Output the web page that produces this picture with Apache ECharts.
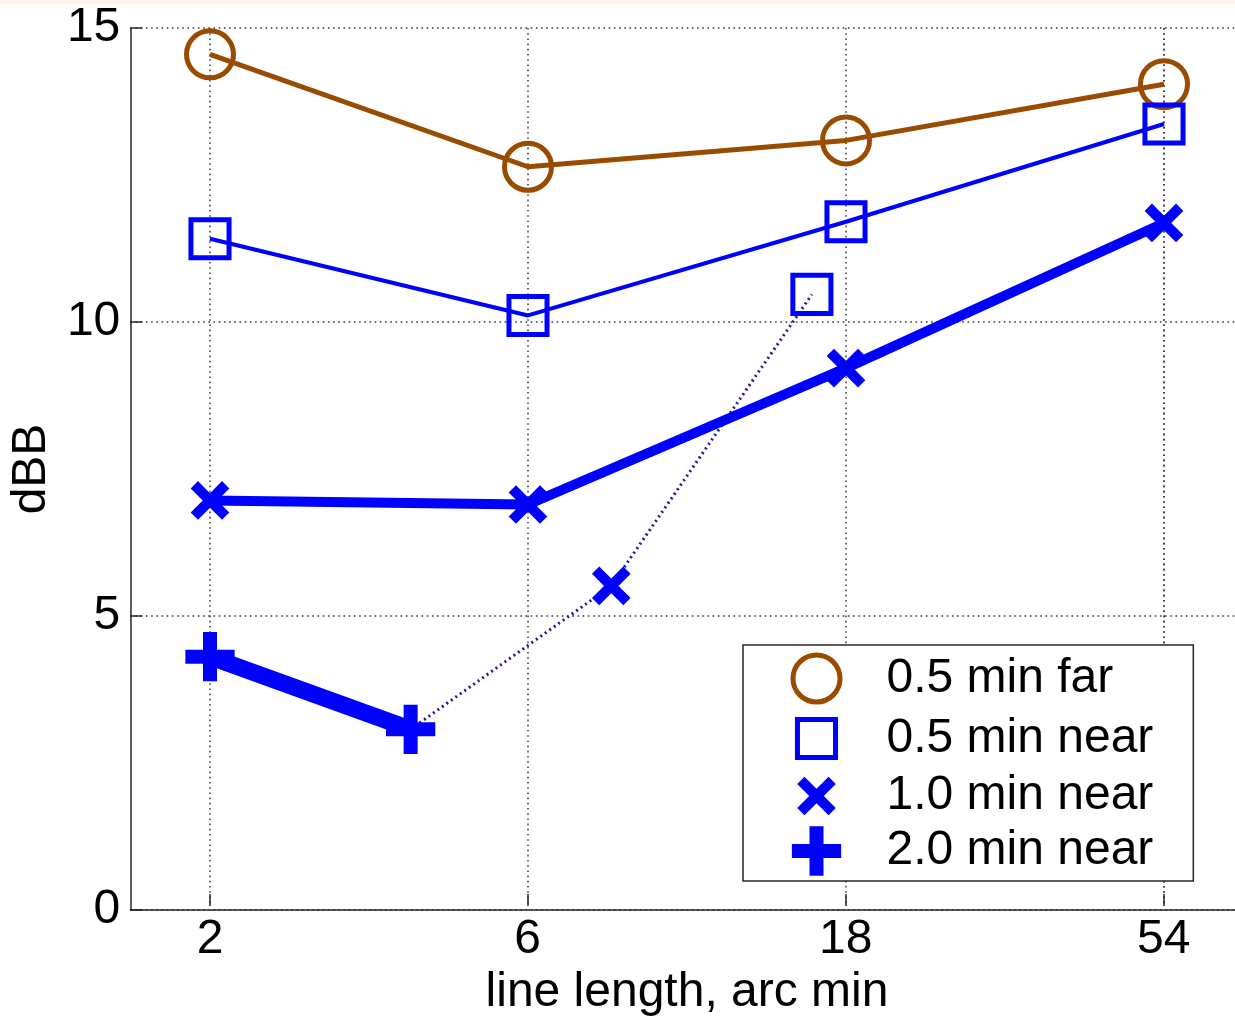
<!DOCTYPE html>
<html>
<head>
<meta charset="utf-8">
<script src="https://cdn.jsdelivr.net/npm/echarts@6/dist/echarts.min.js"></script>
<style>
html,body{margin:0;padding:0;background:#fff;}
#chart{width:1235px;height:1022px;}
</style>
</head>
<body>
<div id="chart"></div>
<script>
// ---- data ----
const lineLengths = [2, 6, 18, 54];
const seriesNames = ['0.5 min far', '0.5 min near', '1.0 min near', '2.0 min near'];
const far05 = [14.55, 12.63, 13.08, 14.04];
const near05 = [11.40, 10.09, 11.69, 13.36];
const near10 = [6.93, 6.86, 9.19, 11.67];
const near20Lengths = [2, 4];
const near20 = [4.26, 3.02];
const extraLengths = [4, 8, 16];
const extraValues = [3.02, 5.47, 10.45];
const extraMarkers = ['none', 'x', 'square'];
const yTicks = [0, 5, 10, 15];

// ---- style ----
const FONT = "'Liberation Sans', Arial, Helvetica, sans-serif";
const BROWN = '#994c00';
const BLUE = '#0000ff';
const NAVY = '#1c1c8c';
const PAD = 'M0 0M100 100';
const SYM = {
  circle: 'path://' + PAD + 'M8 50A42 42 0 1 1 92 50A42 42 0 1 1 8 50Z',
  square: 'path://' + PAD + 'M16 16L84 16L84 84L16 84Z',
  x: 'path://' + PAD + 'M28.5 15.5L50 37L71.5 15.5L84.5 28.5L63 50L84.5 71.5L71.5 84.5L50 63L28.5 84.5L15.5 71.5L37 50L15.5 28.5Z',
  plus: 'path://' + PAD + 'M37.5 6L62.5 6L62.5 37.5L94 37.5L94 62.5L62.5 62.5L62.5 94L37.5 94L37.5 62.5L6 62.5L6 37.5L37.5 37.5Z'
};
const SYM_SIZE = 56;
const hollow = c => ({color: 'rgba(0,0,0,0)', borderColor: c, borderWidth: 5});
const solid = c => ({color: c, borderWidth: 0});

const W = 1235, H = 1022;
const plotLeft = 128, plotTop = 28, plotBottom = 910;
const firstTickX = 210, lastTickX = 1164;

const dotted = {type: [1.6, 3.6], width: 1.5, color: '#3a3a3a'};

const pairs = (xs, ys) => xs.map((x, i) => [x, ys[i]]);

const extraData = extraLengths.map((x, i) => {
  const m = extraMarkers[i];
  if (m === 'none') return {value: [x, extraValues[i]], symbol: 'none'};
  if (m === 'x') return {value: [x, extraValues[i]], symbol: SYM.x, itemStyle: solid(BLUE)};
  return {value: [x, extraValues[i]], symbol: SYM.square, itemStyle: hollow(BLUE)};
});

const chart = echarts.init(document.getElementById('chart'), null, {renderer: 'canvas'});
chart.setOption({
  animation: false,
  backgroundColor: '#fff',
  textStyle: {fontFamily: FONT},
  graphic: [{type: 'rect', shape: {x: 0, y: 0, width: W, height: 4}, style: {fill: '#fcf3ec'}, silent: true}],
  grid: [
    {left: plotLeft, right: 0, top: plotTop, bottom: H - plotBottom},
    {left: firstTickX, right: W - lastTickX, top: plotTop, bottom: H - plotBottom}
  ],
  xAxis: [
    {type: 'value', gridIndex: 0, min: 0, max: 1,
      axisLine: {show: true, onZero: false, lineStyle: {color: '#262626', width: 1.5}},
      axisTick: {show: false}, axisLabel: {show: false}, splitLine: {show: false}},
    {type: 'log', gridIndex: 1, logBase: 3, min: lineLengths[0], max: lineLengths[lineLengths.length - 1], interval: 1,
      name: 'line length, arc min', nameLocation: 'middle', nameGap: 46,
      nameTextStyle: {fontSize: 48, color: '#000', fontFamily: FONT},
      axisLine: {show: false},
      axisTick: {show: true, inside: true, length: 12, lineStyle: {color: '#262626', width: 1.5}},
      axisLabel: {fontSize: 48, color: '#000', fontFamily: FONT, margin: 10,
        formatter: v => String(Math.round(v))},
      splitLine: {show: true, lineStyle: dotted}}
  ],
  yAxis: [
    {type: 'value', gridIndex: 0, min: yTicks[0], max: yTicks[yTicks.length - 1], interval: 5,
      name: 'dBB', nameLocation: 'middle', nameGap: 62,
      nameTextStyle: {fontSize: 48, color: '#000', fontFamily: FONT},
      axisLine: {show: true, lineStyle: {color: '#262626', width: 1.5}},
      axisTick: {show: true, inside: true, length: 12, lineStyle: {color: '#262626', width: 1.5}},
      axisLabel: {fontSize: 48, color: '#000', fontFamily: FONT, margin: 10},
      splitLine: {show: true, lineStyle: dotted}},
    {type: 'value', gridIndex: 1, min: yTicks[0], max: yTicks[yTicks.length - 1], show: false}
  ],
  legend: {
    orient: 'vertical', left: 743, top: 645, padding: [3, 40, 2, 43],
    itemWidth: SYM_SIZE, itemHeight: SYM_SIZE, itemGap: -1,
    backgroundColor: '#fff', borderColor: '#262626', borderWidth: 1.5,
    selectedMode: false,
    textStyle: {fontSize: 48, color: '#000', fontFamily: FONT, padding: [0, 0, 0, 37]},
    data: [
      {name: seriesNames[0], icon: SYM.circle, itemStyle: hollow(BROWN)},
      {name: seriesNames[1], icon: SYM.square, itemStyle: hollow(BLUE)},
      {name: seriesNames[2], icon: SYM.x, itemStyle: solid(BLUE)},
      {name: seriesNames[3], icon: SYM.plus, itemStyle: solid(BLUE)}
    ]
  },
  series: [
    {name: seriesNames[0], type: 'line', xAxisIndex: 1, yAxisIndex: 1, clip: false,
      data: pairs(lineLengths, far05), symbol: SYM.circle, symbolSize: SYM_SIZE,
      itemStyle: hollow(BROWN), lineStyle: {color: BROWN, width: 5}, z: 3},
    {name: seriesNames[1], type: 'line', xAxisIndex: 1, yAxisIndex: 1, clip: false,
      data: pairs(lineLengths, near05), symbol: SYM.square, symbolSize: SYM_SIZE,
      itemStyle: hollow(BLUE), lineStyle: {color: BLUE, width: 4}, z: 4},
    {name: seriesNames[2], type: 'line', xAxisIndex: 1, yAxisIndex: 1, clip: false,
      data: pairs(lineLengths, near10), symbol: SYM.x, symbolSize: SYM_SIZE,
      itemStyle: solid(BLUE), lineStyle: {color: BLUE, width: 10}, z: 5},
    {name: seriesNames[3], type: 'line', xAxisIndex: 1, yAxisIndex: 1, clip: false,
      data: pairs(near20Lengths, near20), symbol: SYM.plus, symbolSize: SYM_SIZE,
      itemStyle: solid(BLUE), lineStyle: {color: BLUE, width: 17}, z: 6},
    {name: 'extra', type: 'line', xAxisIndex: 1, yAxisIndex: 1, clip: false,
      data: extraData, symbolSize: SYM_SIZE,
      itemStyle: solid(BLUE), lineStyle: {color: NAVY, width: 3, type: [2, 3.5]}, z: 4}
  ]
});
</script>
</body>
</html>
